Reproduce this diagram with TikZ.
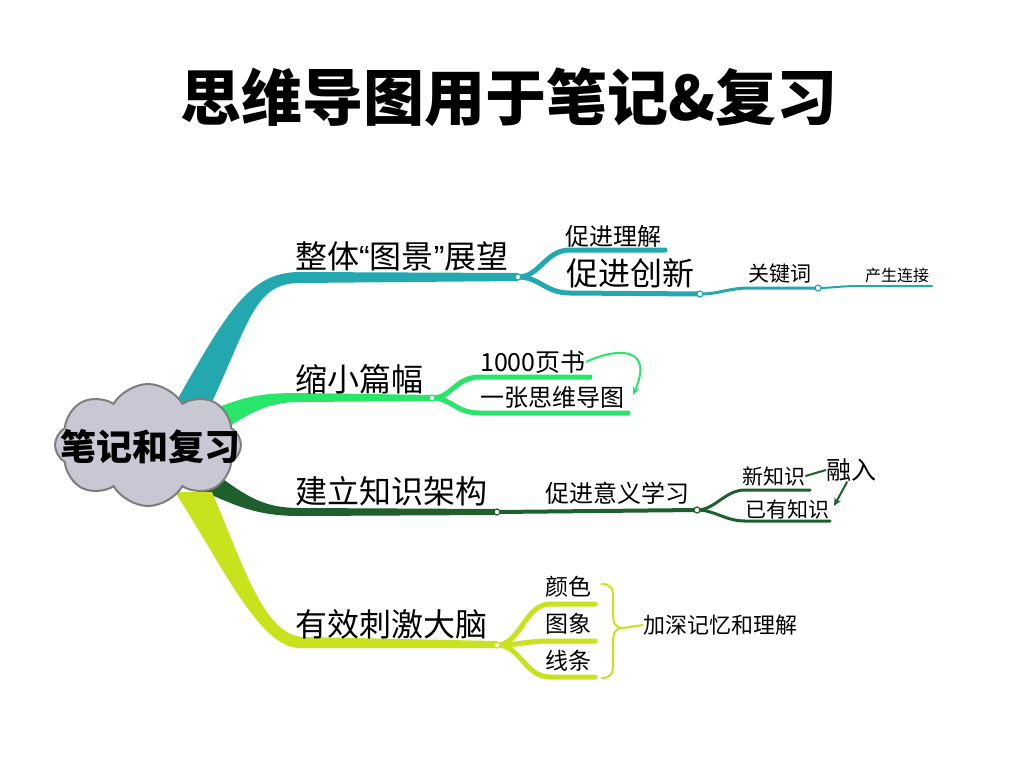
\documentclass[tikz,border=0pt]{standalone}
\usepackage{fontspec}
\setmainfont{Noto Sans CJK SC}
\newfontfamily\latinq{Liberation Sans}
\usetikzlibrary{shapes.symbols,arrows.meta}
\definecolor{cteal}{RGB}{35,168,176}
\definecolor{cgreen}{RGB}{40,230,105}
\definecolor{cdark}{RGB}{30,95,45}
\definecolor{cyel}{RGB}{200,226,30}
\definecolor{cloudfill}{RGB}{200,200,212}
\definecolor{cloudline}{RGB}{125,125,125}
\newcommand{\fsz}[1]{\fontsize{#1}{#1}\selectfont}
\tikzset{
  lab/.style={inner sep=0pt, anchor=west, text=black},
  dotst/.style={circle, fill=white, draw=#1, line width=1.2pt, inner sep=0pt, minimum size=6pt},
  lv2/.style={draw=#1, line width=5pt, line cap=round},
  lv3/.style={draw=#1, line width=3pt, line cap=round},
  lv4/.style={draw=#1, line width=2pt, line cap=round},
}
\begin{document}
\begin{tikzpicture}[x=1pt,y=-1pt]
\useasboundingbox[fill=white] (0,0) rectangle (1024,768);

% title
\node[inner sep=0pt] (title) at (509,97) {\fsz{61}\bfseries 思维导图用于笔记\&复习};

% junction coordinates
\coordinate (t0) at (518,277);
\coordinate (t1) at (700,294);
\coordinate (t2) at (818,288);
\coordinate (g0) at (432,398);
\coordinate (k0) at (497,512);
\coordinate (k1) at (697,510);
\coordinate (y0) at (497,645);

% main branches (tapering)
\fill[cteal] (176,402) .. controls (228,310) and (250,272) .. (300,272) -- (518,273) -- (518,281)
   -- (300,283) .. controls (255,283) and (250,320) .. (212,402) -- cycle;
\fill[cgreen] (212,410) .. controls (245,396) and (262,393) .. (300,393) -- (432,395) -- (432,401)
   -- (300,402) .. controls (268,402) and (250,412) .. (215,436) -- cycle;
\fill[cdark] (205,466) .. controls (245,495) and (260,508) .. (300,508) -- (497,509) -- (497,515)
   -- (300,516) .. controls (255,516) and (235,505) .. (200,490) -- cycle;
\fill[cyel] (175,492) .. controls (225,570) and (260,648) .. (300,648) -- (497,648) -- (497,641)
   -- (305,637) .. controls (265,637) and (245,570) .. (212,492) -- cycle;

% teal sub-branches
\path[lv2=cteal] (t0) .. controls (540,277) and (545,250) .. (570,250) -- (665,250);
\path[lv2=cteal] (t0) .. controls (540,277) and (545,293) .. (570,293) -- (t1);
\path[lv3=cteal] (t1) .. controls (720,294) and (728,288) .. (750,288) -- (t2);
\path[lv4=cteal] (t2) .. controls (832,288) and (840,286) .. (860,286) -- (932,286);

% green sub-branches
\path[lv2=cgreen] (g0) .. controls (452,398) and (455,377) .. (480,377) -- (590,377);
\path[lv2=cgreen] (g0) .. controls (452,398) and (455,413) .. (480,413) -- (628,413);

% dark green sub-branches
\path[draw=cdark, line width=4pt] (k0) -- (k1);
\path[lv3=cdark] (k1) .. controls (715,510) and (725,490) .. (745,490) -- (810,490);
\path[lv3=cdark] (k1) .. controls (715,510) and (725,521) .. (745,521) -- (830,521);

% yellow sub-branches
\path[lv2=cyel] (y0) .. controls (520,645) and (525,604) .. (550,604) -- (595,604);
\path[lv2=cyel] (y0) .. controls (520,645) and (525,641) .. (550,641) -- (595,641);
\path[lv2=cyel] (y0) .. controls (520,645) and (525,677) .. (550,677) -- (595,677);

% brace
\coordinate (btip) at (623,628);
\draw[cyel, line width=2pt]
  (601,584) .. controls (611,584) and (613,588) .. (613,598) -- (613,614)
  .. controls (613,624) and (616,628) .. (btip)
  .. controls (616,628) and (613,632) .. (613,642) -- (613,664)
  .. controls (613,674) and (611,678) .. (601,678);

% dots
\node[dotst=cteal] at (t0) {};
\node[dotst=cteal] at (t1) {};
\node[dotst=cteal] at (t2) {};
\node[dotst=cgreen] at (g0) {};
\node[dotst=cdark] at (k0) {};
\node[dotst=cdark] at (k1) {};
\node[dotst=cyel] at (y0) {};

% cloud
\node[cloud, cloud puffs=8, cloud puff arc=120, aspect=1.5, draw=cloudline, fill=cloudfill,
      line width=2pt, minimum width=186pt, minimum height=122pt] (cl) at (148,445) {};
\node[inner sep=0pt] (root) at (150,447) {\fsz{36}\bfseries 笔记和复习};

% labels
\node[lab] (a1) at (295,256) {\fsz{32}整体{\latinq “}图景{\latinq ”}展望};
\node[lab] (a11) at (565,236) {\fsz{24}促进理解};
\node[lab] (a12) at (566,273) {\fsz{32}促进创新};
\node[lab] (a121) at (748,274) {\fsz{21}关键词};
\node[lab] (a122) at (865,275) {\fsz{16}产生连接};

\node[lab] (b1) at (295,379) {\fsz{32}缩小篇幅};
\node[lab] (b11) at (480,362) {\fsz{25}1000页书};
\node[lab] (b12) at (480,397) {\fsz{24}一张思维导图};

\node[lab] (c1) at (295,491) {\fsz{32}建立知识架构};
\node[lab] (c11) at (545,493) {\fsz{24}促进意义学习};
\node[lab] (c111) at (742,476) {\fsz{21}新知识};
\node[lab] (c112) at (745,509) {\fsz{21}已有知识};
\node[lab] (c2) at (826,470) {\fsz{25}融入};

\node[lab] (d1) at (295,624) {\fsz{32}有效刺激大脑};
\node[lab] (d11) at (545,587) {\fsz{23}颜色};
\node[lab] (d12) at (545,624) {\fsz{23}图象};
\node[lab] (d13) at (545,661) {\fsz{23}线条};
\node[lab] (d2) at (643,625) {\fsz{22}加深记忆和理解};

% extra connectors
\draw[cyel, line width=2pt] (btip) -- (d2.west);
\draw[cgreen, line width=2pt, -{Stealth[length=8pt,width=7pt]}]
  (b11.east) .. controls (615,348) and (655,345) .. (633,395);
\draw[cdark, line width=2pt] (c111.east) -- (c2.west);
\draw[cdark, line width=2pt, -{Stealth[length=8pt,width=7pt]}]
  ([xshift=-4pt]c2.south) -- (834,506);
\end{tikzpicture}
\end{document}
